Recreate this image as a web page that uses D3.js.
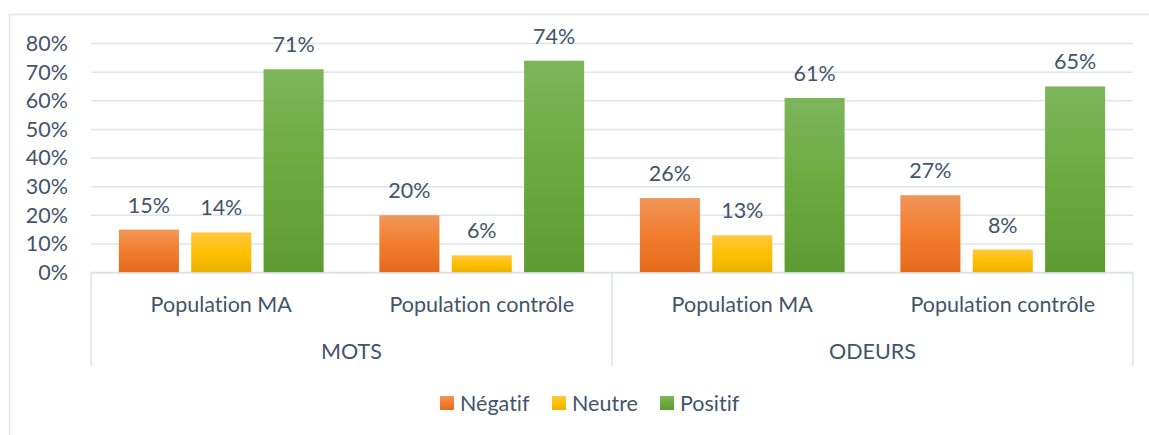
<!DOCTYPE html>
<html>
<head>
<meta charset="utf-8">
<script src="https://cdn.jsdelivr.net/npm/d3@7"></script>
<style>
  body { margin: 0; background: #fff; }
  text { font-family: Lato, "Open Sans", sans-serif; fill: #44546A; font-variant-ligatures: none; }
</style>
</head>
<body>
<svg id="chart" width="1149" height="435"></svg>
<script>
// data
const groups = ['MOTS', 'ODEURS']
const populations = ['Population MA', 'Population contrôle']
const series = ['Négatif', 'Neutre', 'Positif']
const negatif = [15, 20, 26, 27]
const neutre = [14, 6, 13, 8]
const positif = [71, 74, 61, 65]
const yTicks = [0, 10, 20, 30, 40, 50, 60, 70, 80]

const values = [negatif, neutre, positif]
const categories = []
groups.forEach(g => populations.forEach(p => categories.push({group: g, pop: p, key: g + '|' + p})))

const colours = [
    {top: '#F19659', mid: '#F27D2E', bottom: '#E46A1C'},
    {top: '#FFC73F', mid: '#FFC000', bottom: '#E9B200'},
    {top: '#7EB55C', mid: '#6BAA3E', bottom: '#5E9C33'}
]

const svg = d3.select('#chart')
const plotLeft = 91, plotRight = 1133, plotTop = 43.5, plotBottom = 272.5
const fontSize = 21.5

// outer border
svg.append('rect')
    .attr('x', 9.5).attr('y', 14.5)
    .attr('width', 1160).attr('height', 460)
    .attr('fill', 'none')
    .attr('stroke', '#E3E6EB')
    .attr('stroke-width', 1.5)

const defs = svg.append('defs')
colours.forEach((c, i) => {
    const g = defs.append('linearGradient')
        .attr('id', 'grad' + i)
        .attr('x1', 0).attr('y1', 0).attr('x2', 0).attr('y2', 1)
    g.append('stop').attr('offset', '0%').attr('stop-color', c.top)
    g.append('stop').attr('offset', '50%').attr('stop-color', c.mid)
    g.append('stop').attr('offset', '100%').attr('stop-color', c.bottom)
})

const y = d3.scaleLinear().domain([0, 80]).range([plotBottom, plotTop])
const x0 = d3.scaleBand().domain(categories.map(d => d.key)).range([plotLeft, plotRight])
const x1 = d3.scaleBand().domain(series).range([0, x0.bandwidth()])
    .paddingInner(0.17).paddingOuter(0.385)

// gridlines
svg.append('g')
    .selectAll('line')
    .data(yTicks)
    .join('line')
    .attr('x1', plotLeft).attr('x2', plotRight)
    .attr('y1', d => y(d)).attr('y2', d => y(d))
    .attr('stroke', '#E0E3E8')
    .attr('stroke-width', 1.5)

// y axis labels
const yAxis = svg.append('g')
    .attr('transform', `translate(${plotLeft - 23},0)`)
    .call(d3.axisLeft(y).tickValues(yTicks).tickSize(0).tickFormat(d => d + '%'))
yAxis.select('.domain').remove()
yAxis.selectAll('text')
    .attr('font-size', fontSize)
    .attr('font-family', 'Lato, sans-serif')
    .attr('fill', '#44546A')
    .attr('x', 0)

// bars
const cat = svg.append('g')
    .selectAll('g.cat')
    .data(categories)
    .join('g')
    .attr('class', 'cat')
    .attr('transform', d => `translate(${x0(d.key)},0)`)

series.forEach((s, i) => {
    cat.append('rect')
        .attr('x', x1(s))
        .attr('width', x1.bandwidth())
        .attr('y', (d, j) => y(values[i][j]))
        .attr('height', (d, j) => y(0) - y(values[i][j]))
        .attr('fill', `url(#grad${i})`)
    cat.append('text')
        .attr('x', x1(s) + x1.bandwidth() / 2)
        .attr('y', (d, j) => y(values[i][j]) - 17)
        .attr('text-anchor', 'middle')
        .attr('font-size', fontSize)
        .text((d, j) => values[i][j] + '%')
})

// category axis
const axisColour = '#DCE0E6'
svg.append('line')
    .attr('x1', plotLeft).attr('x2', plotRight)
    .attr('y1', plotBottom + 0.5).attr('y2', plotBottom + 0.5)
    .attr('stroke', axisColour).attr('stroke-width', 1.5)

const sep = [plotLeft, x0(categories[2].key), plotRight]
svg.append('g')
    .selectAll('line')
    .data(sep)
    .join('line')
    .attr('x1', d => d).attr('x2', d => d)
    .attr('y1', plotBottom).attr('y2', 366)
    .attr('stroke', axisColour).attr('stroke-width', 1.5)

cat.append('text')
    .attr('x', x0.bandwidth() / 2)
    .attr('y', 312)
    .attr('text-anchor', 'middle')
    .attr('font-size', fontSize)
    .text(d => d.pop)

svg.append('g')
    .selectAll('text')
    .data(groups)
    .join('text')
    .attr('x', (d, i) => (sep[i] + sep[i + 1]) / 2)
    .attr('y', 359)
    .attr('text-anchor', 'middle')
    .attr('font-size', fontSize)
    .text(d => d)

// legend
const legendX = [440, 552, 660]
const legend = svg.append('g')
    .selectAll('g')
    .data(series)
    .join('g')
    .attr('transform', (d, i) => `translate(${legendX[i]},396)`)
legend.append('rect')
    .attr('width', 14).attr('height', 14)
    .attr('fill', (d, i) => `url(#grad${i})`)
legend.append('text')
    .attr('x', 20).attr('y', 14.5)
    .attr('font-size', fontSize)
    .text(d => d)
</script>
</body>
</html>
